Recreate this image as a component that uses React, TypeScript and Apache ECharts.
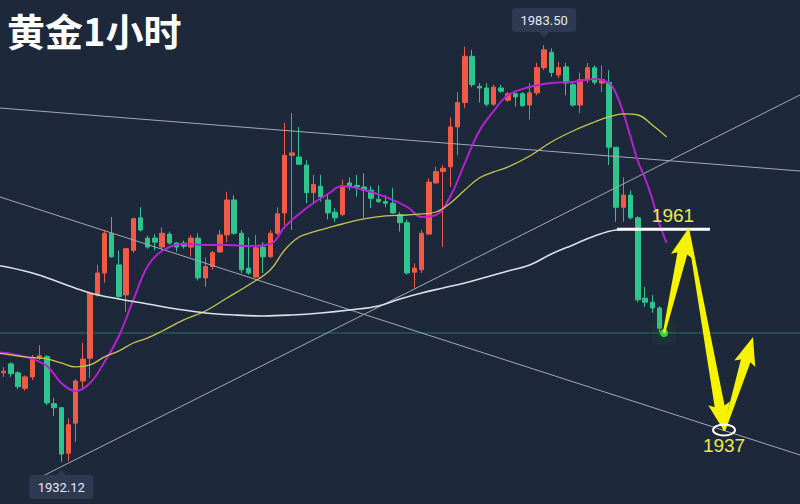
import React, { useEffect, useRef } from "react";
import * as echarts from "echarts";

// ---- candle data (1-hour gold) ----
const opens = [
  1943.1, 1944.2, 1943.1, 1941.2, 1942.6, 1944.9, 1945.1, 1939.3, 1938.8, 1933.2,
  1936.9, 1942.1, 1944.9, 1952.7, 1955.4, 1960.3, 1956.4, 1952.7, 1958.2, 1962.2,
  1959.7, 1959.7, 1958.6, 1960.2, 1959.1, 1959.1, 1958.6, 1959.7, 1954.8, 1956.2,
  1958.0, 1960.1, 1964.4, 1960.3, 1956.0, 1954.9, 1958.6, 1957.4, 1960.3, 1962.8,
  1969.9, 1969.7, 1968.7, 1965.3, 1966.1, 1964.4, 1962.9, 1962.6, 1966.5, 1966.2,
  1966.0, 1965.6, 1964.5, 1964.2, 1964.0, 1962.6, 1961.6, 1955.5, 1955.8, 1960.2,
  1966.5, 1967.9, 1968.5, 1973.4, 1976.4, 1982.1, 1978.4, 1978.2, 1976.2, 1978.2,
  1976.7, 1977.5, 1977.5, 1976.1, 1977.6, 1980.7, 1982.6, 1979.8, 1980.8, 1978.6,
  1976.1, 1979.2, 1980.7, 1978.8, 1978.9, 1970.9, 1963.5, 1965.0, 1962.2, 1952.3,
  1951.8, 1951.1,
];
const closes = [
  1943.3, 1943.0, 1941.4, 1942.6, 1944.9, 1945.2, 1939.4, 1938.8, 1933.1, 1936.7,
  1942.1, 1944.8, 1952.9, 1955.4, 1960.3, 1957.4, 1952.5, 1958.4, 1962.1, 1960.7,
  1958.6, 1959.2, 1960.3, 1959.1, 1958.6, 1958.7, 1959.7, 1954.8, 1956.2, 1957.9,
  1960.1, 1964.4, 1960.3, 1955.8, 1955.4, 1958.5, 1957.4, 1960.3, 1962.7, 1969.9,
  1970.2, 1968.8, 1965.3, 1966.3, 1964.8, 1962.8, 1962.2, 1966.0, 1966.0, 1966.0,
  1965.6, 1964.6, 1964.2, 1964.0, 1962.8, 1961.6, 1955.4, 1956.0, 1960.3, 1966.6,
  1967.9, 1968.3, 1973.4, 1976.4, 1982.1, 1978.6, 1978.2, 1976.2, 1978.3, 1977.8,
  1977.5, 1977.1, 1976.0, 1977.6, 1980.7, 1982.9, 1980.1, 1980.7, 1978.8, 1976.1,
  1979.2, 1980.7, 1978.9, 1979.2, 1970.9, 1963.5, 1965.0, 1962.2, 1952.1, 1951.8,
  1951.1, 1948.6,
];
const lows = [
  1942.6, 1942.6, 1941.1, 1940.9, 1942.2, 1944.7, 1939.1, 1937.8, 1932.12, 1932.2,
  1934.6, 1941.0, 1942.5, 1952.5, 1954.2, 1957.3, 1952.3, 1950.6, 1957.9, 1960.5,
  1958.4, 1958.2, 1958.2, 1958.9, 1958.0, 1958.4, 1957.4, 1954.5, 1953.7, 1955.8,
  1957.9, 1959.2, 1960.1, 1955.4, 1955.2, 1954.8, 1955.4, 1957.3, 1960.1, 1961.3,
  1960.7, 1968.7, 1964.0, 1964.0, 1964.2, 1962.0, 1961.7, 1962.4, 1965.6, 1964.8,
  1962.2, 1963.4, 1964.0, 1963.5, 1962.7, 1960.5, 1955.2, 1953.6, 1955.4, 1960.1,
  1966.4, 1958.6, 1966.0, 1969.9, 1975.7, 1978.3, 1976.4, 1975.9, 1976.0, 1977.6,
  1976.5, 1975.9, 1975.9, 1974.3, 1977.3, 1980.4, 1979.6, 1979.4, 1977.3, 1975.9,
  1975.1, 1978.8, 1978.6, 1977.7, 1968.7, 1961.7, 1961.7, 1962.0, 1951.8, 1951.2,
  1950.5, 1948.1,
];
const highs = [
  1943.8, 1944.4, 1943.3, 1942.8, 1945.3, 1946.5, 1945.3, 1940.0, 1938.9, 1937.5,
  1942.3, 1946.8, 1953.1, 1956.4, 1960.7, 1962.3, 1958.2, 1958.5, 1962.2, 1963.5,
  1960.0, 1960.2, 1961.0, 1960.5, 1959.2, 1959.4, 1960.1, 1960.3, 1957.3, 1958.1,
  1960.7, 1965.4, 1965.0, 1960.7, 1959.8, 1960.1, 1959.2, 1960.7, 1963.5, 1973.9,
  1975.1, 1973.4, 1969.3, 1967.5, 1967.5, 1965.0, 1963.4, 1966.9, 1967.2, 1967.5,
  1967.7, 1966.1, 1966.2, 1965.0, 1965.9, 1962.9, 1962.0, 1956.6, 1960.7, 1967.1,
  1968.5, 1968.7, 1974.6, 1977.7, 1983.3, 1982.9, 1978.8, 1978.8, 1978.6, 1978.6,
  1977.7, 1977.6, 1977.7, 1978.8, 1981.3, 1983.5, 1983.1, 1981.4, 1981.3, 1978.9,
  1980.1, 1981.3, 1981.0, 1981.0, 1980.4, 1970.9, 1967.2, 1965.6, 1962.4, 1953.7,
  1952.7, 1951.3,
];

// moving averages: [candle index, price]
const maFast = [
  [-0.5, 1945.6], [3, 1945.06], [6, 1943.95], [8, 1941.85], [10, 1940.87], [12, 1941.85],
  [14, 1944.44], [16, 1947.64], [18, 1952.08], [20, 1956.27], [22, 1958.12], [25, 1958.98],
  [28, 1958.86], [31, 1958.86], [34, 1958.73], [37, 1958.98], [39, 1961.07], [41, 1962.68],
  [43, 1964.03], [45, 1965.14], [47, 1966.12], [50, 1965.63], [53, 1964.77], [56, 1963.54],
  [58, 1962.31], [60, 1962.55], [62, 1964.89], [64, 1968.96], [66, 1972.9], [68, 1975.36],
  [70, 1977.34], [73, 1978.32], [76, 1978.81], [79, 1978.94], [82, 1979.31], [84, 1978.81],
  [85, 1977.46], [86, 1975.12], [87, 1972.16], [88, 1969.2], [89, 1967.11], [90, 1964.52],
  [91, 1961.44], [92, 1959.1],
];
const maMid = [
  [-0.5, 1945.5], [3, 1945.06], [6, 1944.81], [8, 1944.32], [10, 1943.83], [12, 1944.07],
  [14, 1945.06], [16, 1945.8], [18, 1946.78], [20, 1947.4], [22, 1948.26], [25, 1949.62],
  [28, 1950.72], [31, 1952.33], [34, 1953.93], [37, 1955.78], [39, 1958.24], [41, 1959.84],
  [43, 1960.46], [45, 1960.95], [47, 1961.44], [50, 1962.06], [53, 1962.43], [56, 1962.55],
  [58, 1962.68], [60, 1962.92], [62, 1964.03], [64, 1965.63], [66, 1967.11], [68, 1967.85],
  [70, 1968.47], [73, 1969.82], [76, 1971.55], [79, 1972.9], [82, 1974.01], [84, 1974.63],
  [86, 1975.0], [88, 1974.87], [90, 1973.64], [92, 1972.16],
];
const maSlow = [
  [-0.5, 1956.3], [4, 1955.41], [8, 1954.17], [12, 1952.94], [16, 1952.2], [20, 1951.59],
  [24, 1950.97], [28, 1950.48], [32, 1950.23], [36, 1950.11], [40, 1950.23], [44, 1950.48],
  [48, 1950.85], [52, 1951.34], [55, 1952.2], [58, 1952.94], [61, 1953.56], [64, 1954.17],
  [67, 1954.91], [70, 1955.65], [73, 1956.39], [76, 1957.75], [79, 1958.86], [82, 1959.96],
  [85, 1960.7], [88, 1960.83],
];

// trend lines and annotations: [x (candle index), price]
const trendUpper = [[-0.5, 1975.73], [110.5, 1967.97]];
const trendLower = [[-0.5, 1964.77], [110.5, 1932.98]];
const trendRising = [[5.47, 1930.4], [110.5, 1977.34]];
const currentPrice = 1948.01;
const resistanceLine = [[85.1, 1960.8], [98.0, 1960.8]];
const arrowPath = [[91.63, 1948.01], [94.96, 1960.83], [99.96, 1935.94], [103.98, 1947.52]];
const targetLabels = [
  { text: "1961", at: [92.88, 1962.43] },
  { text: "1937", at: [99.96, 1934.1] },
];
const targetRing = [99.96, 1936.06];
const title = "黄金1小时";

const TOTAL_SLOTS = 111;
const Y_MIN = 1926.94;
const Y_MAX = 1989.04;

const BG = "#1e283b";
const UP = "#f05a46";
const DOWN = "#2ec48c";
const YELLOW = "#f6f300";

export default function App() {
  const ref = useRef<HTMLDivElement>(null);

  useEffect(() => {
    if (!ref.current) return;
    document.body.style.margin = "0";
    const chart = echarts.init(ref.current, undefined, { renderer: "svg" });
    const categories = Array.from({ length: TOTAL_SLOTS }, (_, i) => String(i));
    const candles = opens.map((o, i) => [o, closes[i], lows[i], highs[i]]);

    const lineSeries = (data: number[][], color: string, width: number, smooth: boolean | number, z = 3) => ({
      type: "line",
      xAxisIndex: 1,
      yAxisIndex: 0,
      data,
      smooth,
      symbol: "none",
      silent: true,
      z,
      lineStyle: { color, width },
    });

    chart.setOption({
      animation: false,
      backgroundColor: BG,
      grid: { left: 0, right: 0, top: 0, bottom: 0 },
      xAxis: [
        { type: "category", data: categories, boundaryGap: true, show: false },
        { type: "value", min: -0.5, max: TOTAL_SLOTS - 0.5, show: false },
      ],
      yAxis: [{ type: "value", min: Y_MIN, max: Y_MAX, show: false, splitLine: { show: false } }],
      series: [
        {
          type: "candlestick",
          xAxisIndex: 0,
          yAxisIndex: 0,
          data: candles,
          barWidth: 5,
          z: 2,
          itemStyle: {
            color: UP,
            color0: DOWN,
            borderColor: UP,
            borderColor0: DOWN,
            borderWidth: 1,
          },
        },
        lineSeries(maFast, "#bb22d8", 1.9, 0.4, 4),
        lineSeries(maMid, "#c9c64c", 1.3, 0.4, 4),
        lineSeries(maSlow, "#dde1e9", 1.6, 0.4, 4),
        lineSeries(trendUpper, "#a3a9b5", 1, false),
        lineSeries(trendLower, "#a3a9b5", 1, false),
        lineSeries(trendRising, "#a3a9b5", 1, false),
        lineSeries([[-0.5, currentPrice], [TOTAL_SLOTS - 0.5, currentPrice]], "#2f6e6a", 1, false, 1),
        lineSeries(resistanceLine, "#ffffff", 3, false, 5),
        {
          type: "scatter",
          xAxisIndex: 1,
          yAxisIndex: 0,
          data: [arrowPath[0]],
          symbolSize: 8,
          z: 6,
          silent: true,
          itemStyle: { color: "#3cff3c", shadowBlur: 18, shadowColor: "#22ff22" },
        },
      ],
    });

    const px = (p: number[]) => chart.convertToPixel({ seriesIndex: 1 }, p) as number[];
    const graphics: any[] = [];

    // arrows
    const arrow = (a: number[], b: number[]) => {
      const dx = b[0] - a[0];
      const dy = b[1] - a[1];
      const len = Math.hypot(dx, dy);
      const ux = dx / len;
      const uy = dy / len;
      const nx = -uy;
      const ny = ux;
      const headLen = 25;
      const headHalf = 11;
      const shaftHead = 5;
      const tail = 1.2;
      const bx = b[0] - ux * headLen;
      const by = b[1] - uy * headLen;
      return [
        [a[0] + nx * tail, a[1] + ny * tail],
        [bx + nx * shaftHead, by + ny * shaftHead],
        [bx - ux * 3 + nx * headHalf, by - uy * 3 + ny * headHalf],
        [b[0], b[1]],
        [bx - ux * 3 - nx * headHalf, by - uy * 3 - ny * headHalf],
        [bx - nx * shaftHead, by - ny * shaftHead],
        [a[0] - nx * tail, a[1] - ny * tail],
      ];
    };
    const pts = arrowPath.map(px);
    for (let k = 0; k < pts.length - 1; k++) {
      graphics.push({
        type: "polygon",
        z: 50,
        shape: { points: arrow(pts[k], pts[k + 1]) },
        style: { fill: YELLOW },
        silent: true,
      });
    }

    const ring = px(targetRing);
    graphics.push({
      type: "ellipse",
      z: 51,
      shape: { cx: ring[0], cy: ring[1], rx: 11, ry: 5.5 },
      style: { fill: "none", stroke: "#ffffff", lineWidth: 2 },
    });

    targetLabels.forEach((l) => {
      const p = px(l.at);
      graphics.push({
        type: "text",
        z: 52,
        style: {
          text: l.text,
          x: p[0],
          y: p[1],
          fill: "#ecea4e",
          fontSize: 19,
          fontFamily: "Liberation Sans",
          textAlign: "center",
          textVerticalAlign: "middle",
        },
      });
    });

    // max / min price tags
    let maxI = 0;
    let minI = 0;
    highs.forEach((h, i) => { if (h > highs[maxI]) maxI = i; });
    lows.forEach((l, i) => { if (l < lows[minI]) minI = i; });
    const hiPt = px([maxI, highs[maxI]]);
    const loPt = px([minI, lows[minI]]);
    const tag = (x: number, top: number, text: string, pointerUp: boolean) => {
      const w = 64;
      const h = 24;
      graphics.push({
        type: "rect",
        z: 40,
        shape: { x: x - w / 2, y: top, width: w, height: h, r: 3 },
        style: { fill: "#2d3a52" },
      });
      graphics.push({
        type: "polygon",
        z: 40,
        shape: {
          points: pointerUp
            ? [[x - 5, top], [x + 5, top], [x, top - 5]]
            : [[x - 5, top + h], [x + 5, top + h], [x, top + h + 6]],
        },
        style: { fill: "#2d3a52" },
      });
      graphics.push({
        type: "text",
        z: 41,
        style: {
          text,
          x,
          y: top + h / 2 + 1,
          fill: "#e6eaf0",
          fontSize: 13,
          fontFamily: "Roboto",
          textAlign: "center",
          textVerticalAlign: "middle",
        },
      });
    };
    tag(hiPt[0], hiPt[1] - 37, highs[maxI].toFixed(2), false);
    tag(loPt[0], loPt[1] + 13, lows[minI].toFixed(2), true);

    graphics.push({
      type: "text",
      z: 60,
      style: {
        text: title,
        x: 7,
        y: 29,
        fill: "#ffffff",
        fontSize: 38,
        fontWeight: "bold",
        fontFamily: "Noto Sans CJK SC",
        textAlign: "left",
        textVerticalAlign: "middle",
      },
    });

    chart.setOption({ graphic: graphics });

    return () => chart.dispose();
  }, []);

  return (
    <div
      ref={ref}
      style={{ position: "fixed", left: 0, top: 0, width: 800, height: 504 }}
    />
  );
}
